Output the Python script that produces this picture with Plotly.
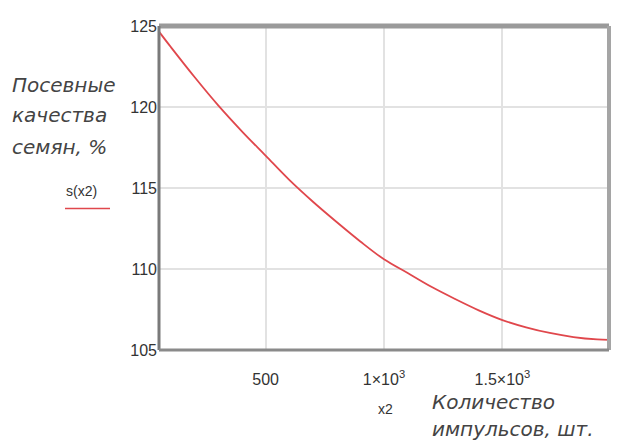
import plotly.graph_objects as go

# data
x2 = [50, 100, 200, 300, 400, 500, 600, 700, 800, 900, 1000, 1100, 1200,
      1300, 1400, 1500, 1600, 1700, 1800, 1900, 1950]
s_vals = [124.65, 123.7, 121.85, 120.1, 118.5, 117.0, 115.5, 114.15, 112.9,
          111.7, 110.6, 109.75, 108.9, 108.15, 107.45, 106.85, 106.4, 106.05,
          105.8, 105.65, 105.62]

x_tickvals = [500, 1000, 1500]
x_ticktext = ["500", "1×10<sup>3</sup>", "1.5×10<sup>3</sup>"]
y_tickvals = [105, 110, 115, 120, 125]
y_ticktext = ["105", "110", "115", "120", "125"]

ytitle_lines = ["Посевные", "качества", "семян, %"]
xtitle_lines = ["Количество", "импульсов, шт."]

# page body has an 8px margin; work in viewport pixels and shift
OFF = 8
W, H = 619 - OFF, 444 - OFF
PL, PR, PT, PB = 159, 609, 18, 350          # plot box in viewport pixels
L, T = PL - OFF, PT - OFF
R = W - (PR - OFF)
B = H - (PB - OFF)
pw, ph = PR - PL, PB - PT

def px(xp):
    return (xp - PL) / pw

def py(yp):
    return (PB - yp) / ph

fig = go.Figure()
fig.add_trace(go.Scatter(x=x2, y=s_vals, mode="lines",
                         line=dict(color="#e0474c", width=1.8, shape="spline"),
                         showlegend=False, hoverinfo="skip"))

tickfont = dict(family="Liberation Sans", size=16, color="#333")
fig.update_layout(
    width=W, height=H,
    margin=dict(l=L, r=R, t=T, b=B),
    paper_bgcolor="white", plot_bgcolor="white",
    xaxis=dict(range=[50, 1950], tickvals=x_tickvals, ticktext=x_ticktext,
               showgrid=True, gridcolor="#e2e2e2", gridwidth=1.5,
               zeroline=False, showline=False, ticks="",
               tickfont=tickfont, ticklabelstandoff=18),
    yaxis=dict(range=[105, 125], tickvals=y_tickvals, ticktext=y_ticktext,
               showgrid=True, gridcolor="#e2e2e2", gridwidth=1.5,
               zeroline=False, showline=False, ticks="",
               tickfont=tickfont, ticklabelstandoff=1),
)

# frame (Mathcad style)
fig.add_shape(type="line", xref="paper", yref="paper", x0=0, x1=1, y0=1, y1=1,
              line=dict(color="#9a9a9a", width=5))
fig.add_shape(type="line", xref="paper", yref="paper", x0=1, x1=1, y0=0, y1=1,
              line=dict(color="#a5a5a5", width=4))
fig.add_shape(type="line", xref="paper", yref="paper", x0=0, x1=0, y0=0, y1=1,
              line=dict(color="#7a7a7a", width=3))
fig.add_shape(type="line", xref="paper", yref="paper", x0=0, x1=1, y0=0, y1=0,
              line=dict(color="#8a8a8a", width=3))

titlefont = dict(family="DejaVu Sans", size=20, color="#444")
for line, yp in zip(ytitle_lines, [78, 109, 142]):
    fig.add_annotation(text="<i>" + line + "</i>", xref="paper", yref="paper",
                       x=px(10), y=py(yp), xanchor="left", yanchor="middle",
                       showarrow=False, font=titlefont)
for line, yp in zip(xtitle_lines, [403, 431]):
    fig.add_annotation(text="<i>" + line + "</i>", xref="paper", yref="paper",
                       x=px(430), y=py(yp), xanchor="left", yanchor="middle",
                       showarrow=False, font=titlefont)

smallfont = dict(family="Liberation Sans", size=14, color="#333")
fig.add_annotation(text="s(x2)", xref="paper", yref="paper", x=px(64), y=py(187),
                   xanchor="left", yanchor="middle", showarrow=False, font=smallfont)
fig.add_shape(type="line", xref="paper", yref="paper", x0=px(65), x1=px(110),
              y0=py(205), y1=py(205), line=dict(color="#e0474c", width=1.5))
fig.add_annotation(text="x2", xref="paper", yref="paper", x=px(385), y=py(410),
                   xanchor="center", yanchor="middle", showarrow=False, font=smallfont)

fig.write_html("out.html")
